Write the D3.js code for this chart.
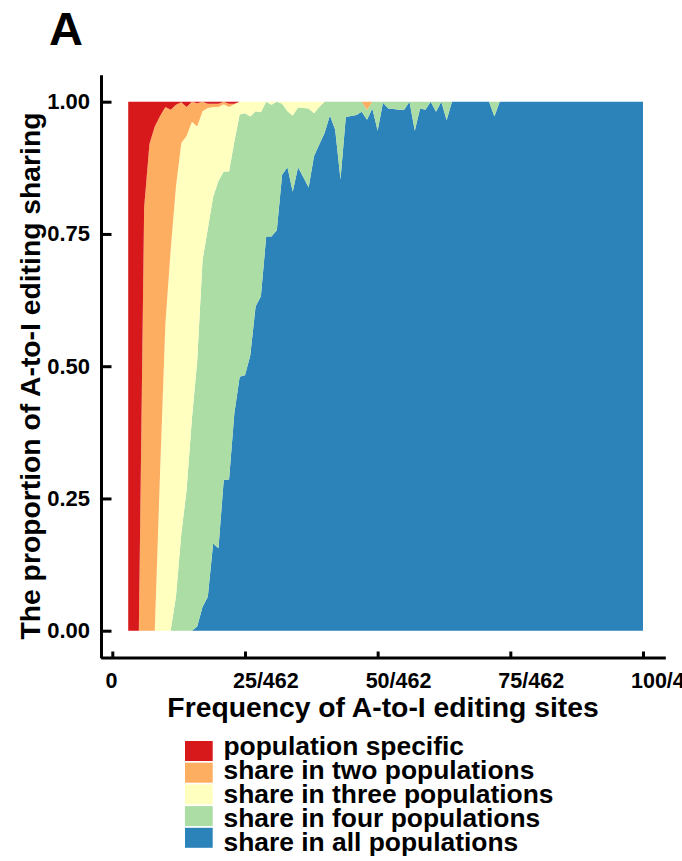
<!DOCTYPE html>
<html>
<head>
<meta charset="utf-8">
<script src="https://cdn.jsdelivr.net/npm/d3@7/dist/d3.min.js"></script>
<style>
  html, body { margin: 0; padding: 0; background: #ffffff; }
  svg { display: block; }
  text { font-family: "Liberation Sans", Arial, Helvetica, sans-serif; font-weight: bold; fill: #000; }
</style>
</head>
<body>
<script>
// Number of populations sharing each A-to-I editing site, binned by site frequency (count out of 462)
const freq = [
  3, 4, 5, 6, 7, 8, 9, 10, 11, 12,
  13, 14, 15, 16, 17, 18, 19, 20, 21, 22,
  23, 24, 25, 26, 27, 28, 29, 30, 31, 32,
  33, 34, 35, 36, 37, 38, 39, 40, 41, 42,
  43, 44, 45, 46, 47, 48, 49, 50, 51, 52,
  53, 54, 55, 56, 57, 58, 59, 60, 61, 62,
  63, 64, 65, 66, 67, 68, 69, 70, 71, 72,
  73, 74, 75, 76, 77, 78, 79, 80, 81, 82,
  83, 84, 85, 86, 87, 88, 89, 90, 91, 92,
  93, 94, 95, 96, 97, 98, 99, 100
];

const populationSpecific = [
  1, 1, 1, 0.20, 0.08, 0.047, 0.027, 0.01, 0.015, 0.006,
  0.001, 0.01, 0, 0.003, 0, 0.004, 0.004, 0.004, 0, 0.004,
  0.004, 0, 0, 0, 0, 0, 0, 0, 0, 0,
  0, 0, 0, 0, 0, 0, 0, 0, 0, 0,
  0, 0, 0, 0, 0, 0, 0, 0, 0, 0,
  0, 0, 0, 0, 0, 0, 0, 0, 0, 0,
  0, 0, 0, 0, 0, 0, 0, 0, 0, 0,
  0, 0, 0, 0, 0, 0, 0, 0, 0, 0,
  0, 0, 0, 0, 0, 0, 0, 0, 0, 0,
  0, 0, 0, 0, 0, 0, 0, 0
];

const shareTwo = [
  0, 0, 0, 0.80, 0.92, 0.953, 0.673, 0.41, 0.265, 0.154,
  0.077, 0.055, 0.038, 0.044, 0.018, 0.008, 0.006, 0.006, 0.005, 0.006,
  0.001, 0, 0, 0, 0, 0, 0, 0, 0, 0,
  0, 0, 0, 0, 0, 0, 0, 0, 0, 0,
  0, 0, 0, 0, 0, 0.015, 0, 0, 0, 0,
  0, 0, 0, 0, 0, 0, 0, 0, 0, 0,
  0, 0, 0, 0, 0, 0, 0, 0, 0, 0,
  0, 0, 0, 0, 0, 0, 0, 0, 0, 0,
  0, 0, 0, 0, 0, 0, 0, 0, 0, 0,
  0, 0, 0, 0, 0, 0, 0, 0
];

const shareThree = [
  0, 0, 0, 0, 0, 0, 0.30, 0.58, 0.72, 0.775,
  0.739, 0.669, 0.562, 0.443, 0.282, 0.228, 0.17, 0.14, 0.127, 0.122,
  0.07, 0.024, 0.022, 0.028, 0.018, 0.02, 0, 0.006, 0, 0.004,
  0.018, 0.026, 0.011, 0.012, 0.013, 0.022, 0.01, 0, 0, 0,
  0, 0, 0, 0, 0, 0, 0, 0, 0, 0,
  0, 0, 0, 0, 0, 0, 0, 0, 0, 0,
  0, 0, 0, 0, 0, 0, 0, 0, 0, 0,
  0, 0, 0, 0, 0, 0, 0, 0, 0, 0,
  0, 0, 0, 0, 0, 0, 0, 0, 0, 0,
  0, 0, 0, 0, 0, 0, 0, 0
];

const shareFour = [
  0, 0, 0, 0, 0, 0, 0, 0, 0, 0.065,
  0.183, 0.266, 0.40, 0.502, 0.655, 0.696, 0.655, 0.694, 0.583, 0.582,
  0.514, 0.496, 0.495, 0.452, 0.369, 0.348, 0.255, 0.249, 0.243, 0.134,
  0.106, 0.144, 0.113, 0.131, 0.149, 0.081, 0.071, 0.059, 0.026, 0.053,
  0.147, 0.029, 0.027, 0.025, 0.019, 0.019, 0.013, 0.055, 0.002, 0.013,
  0.014, 0.015, 0.015, 0, 0.055, 0.013, 0.015, 0, 0.019, 0,
  0.035, 0, 0, 0, 0, 0, 0, 0, 0, 0.028,
  0, 0, 0, 0, 0, 0, 0, 0, 0, 0,
  0, 0, 0, 0, 0, 0, 0, 0, 0, 0,
  0, 0, 0, 0, 0, 0, 0, 0
];

const shareAll = [
  0, 0, 0, 0, 0, 0, 0, 0, 0, 0,
  0, 0, 0, 0.008, 0.045, 0.064, 0.165, 0.156, 0.285, 0.286,
  0.411, 0.48, 0.483, 0.52, 0.613, 0.632, 0.745, 0.745, 0.757, 0.862,
  0.876, 0.83, 0.876, 0.857, 0.838, 0.897, 0.919, 0.941, 0.974, 0.947,
  0.853, 0.971, 0.973, 0.975, 0.981, 0.966, 0.987, 0.945, 0.998, 0.987,
  0.986, 0.985, 0.985, 1, 0.945, 0.987, 0.985, 1, 0.981, 1,
  0.965, 1, 1, 1, 1, 1, 1, 1, 1, 0.972,
  1, 1, 1, 1, 1, 1, 1, 1, 1, 1,
  1, 1, 1, 1, 1, 1, 1, 1, 1, 1,
  1, 1, 1, 1, 1, 1, 1, 1
];

// Legend order (top to bottom) and fill colours
const seriesLabels = [
  "population specific",
  "share in two populations",
  "share in three populations",
  "share in four populations",
  "share in all populations"
];
const seriesColors = ["#d7191c", "#fdae61", "#ffffbf", "#abdda4", "#2b83ba"];
const seriesKeys = ["specific", "two", "three", "four", "all"];

const xTicks = [0, 25, 50, 75, 100];
const xTickLabels = ["0", "25/462", "50/462", "75/462", "100/462"];
const yTicks = [0, 0.25, 0.5, 0.75, 1];

// Rows for the stack
const rows = freq.map((f, i) => ({
  freq: f,
  specific: populationSpecific[i],
  two: shareTwo[i],
  three: shareThree[i],
  four: shareFour[i],
  all: shareAll[i]
}));

const W = 682, H = 861;
const svg = d3.select("body").append("svg").attr("width", W).attr("height", H);

const x = d3.scaleLinear().domain([0, 100]).range([112.3, 643]);
const y = d3.scaleLinear().domain([0, 1]).range([630.7, 101.7]);

// Stack bottom-up: all, four, three, two, specific
const stackKeys = ["all", "four", "three", "two", "specific"];
const colorOf = {};
seriesKeys.forEach((k, i) => colorOf[k] = seriesColors[i]);

const stacked = d3.stack().keys(stackKeys).offset(d3.stackOffsetExpand)(rows);

const area = d3.area()
  .x(d => x(d.data.freq))
  .y0(d => y(d[0]))
  .y1(d => y(d[1]))
  .curve(d3.curveLinear);

svg.append("g").selectAll("path")
  .data(stacked)
  .join("path")
  .attr("fill", d => colorOf[d.key])
  .attr("d", area);

// Y axis
const yAxisG = svg.append("g")
  .attr("transform", "translate(101.5,0)")
  .call(d3.axisLeft(y).tickValues(yTicks).tickFormat(d3.format(".2f"))
    .tickSizeInner(-10).tickSizeOuter(0).tickPadding(11.5));
yAxisG.select(".domain").remove();
yAxisG.selectAll(".tick line").attr("stroke", "#000").attr("stroke-width", 3);
yAxisG.selectAll(".tick text").style("font-size", "22px");
yAxisG.append("line")
  .attr("x1", 0).attr("x2", 0)
  .attr("y1", y(1.05)).attr("y2", y(-0.052))
  .attr("stroke", "#000").attr("stroke-width", 3);

// X axis: labels after the first start a little left of their tick
const xAxisG = svg.append("g")
  .attr("transform", "translate(0,658)")
  .call(d3.axisBottom(x).tickValues(xTicks).tickFormat((d, i) => xTickLabels[i])
    .tickSizeInner(-6.5).tickSizeOuter(0).tickPadding(15));
xAxisG.select(".domain").remove();
xAxisG.selectAll(".tick line").attr("stroke", "#000").attr("stroke-width", 3);
xAxisG.selectAll(".tick text")
  .style("font-size", "21.5px")
  .attr("text-anchor", d => d === 0 ? "middle" : "start")
  .attr("dx", d => d === 0 ? -1.3 : -12.5);
xAxisG.append("line")
  .attr("x1", x(-2.1)).attr("x2", x(104.3))
  .attr("y1", 0).attr("y2", 0)
  .attr("stroke", "#000").attr("stroke-width", 3);

// Axis titles
svg.append("text")
  .attr("x", 383).attr("y", 717)
  .attr("text-anchor", "middle")
  .style("font-size", "28.3px")
  .text("Frequency of A-to-I editing sites");

svg.append("text")
  .attr("transform", "translate(40,376) rotate(-90)")
  .attr("text-anchor", "middle")
  .style("font-size", "28.3px")
  .text("The proportion of A-to-I editing sharing");

// Panel letter
svg.append("text")
  .attr("x", 49).attr("y", 45)
  .style("font-size", "47px")
  .text("A");

// Legend: keys on a 21.7px pitch, labels on a 24px pitch
const legend = svg.append("g").attr("transform", "translate(185,741)");
legend.selectAll("rect")
  .data(seriesLabels)
  .join("rect")
  .attr("y", (d, i) => i * 21.7)
  .attr("width", 27.7).attr("height", 20)
  .attr("fill", (d, i) => seriesColors[i]);
legend.selectAll("text")
  .data(seriesLabels)
  .join("text")
  .attr("x", 38.5)
  .attr("y", (d, i) => 14 + i * 24)
  .style("font-size", "26.4px")
  .text(d => d);
</script>
</body>
</html>
